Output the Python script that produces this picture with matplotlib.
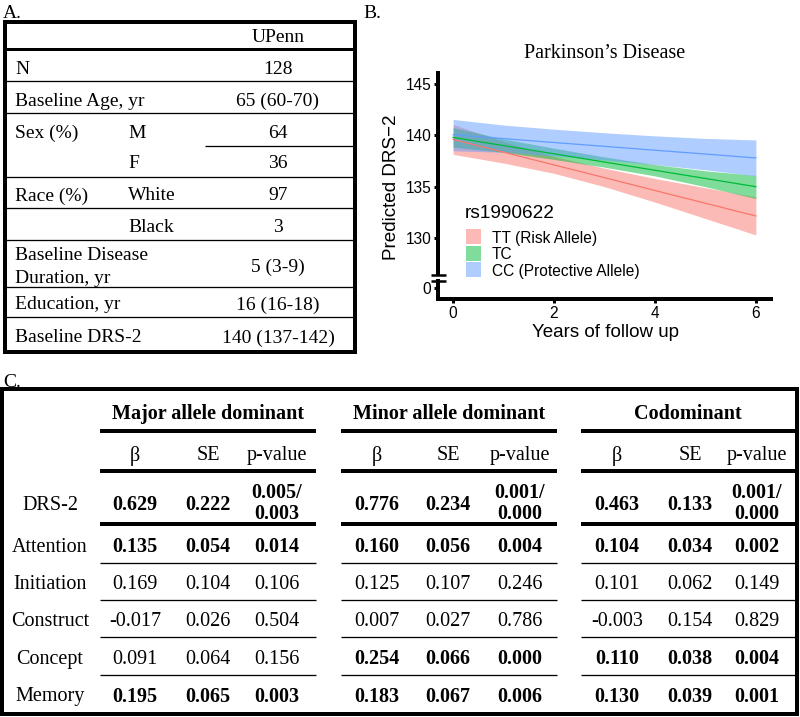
import matplotlib
matplotlib.use("Agg")
import matplotlib.pyplot as plt
from matplotlib.lines import Line2D
from matplotlib.patches import Rectangle

W, H = 800, 717
SERIF = "Liberation Serif"
SANS = "Liberation Sans"

# ---- panel A: cohort table ----
a_labels = ["N", "Baseline Age, yr", "Sex (%)", "", "Race (%)", "",
            "Baseline Disease\nDuration, yr", "Education, yr", "Baseline DRS-2"]
a_sublabels = ["", "", "M", "F", "White", "Black", "", "", ""]
a_values = ["128", "65 (60-70)", "64", "36", "97", "3", "5 (3-9)", "16 (16-18)", "140 (137-142)"]

# ---- panel B: predicted DRS-2 over follow up ----
years = [0, 1, 2, 3, 4, 5, 6]
genotypes = ["TT (Risk Allele)", "TC", "CC (Protective Allele)"]
tt_fit = [139.6, 138.36, 137.12, 135.88, 134.63, 133.39, 132.15]
tt_lo = [138.15, 137.3, 136.3, 135.0, 133.5, 131.9, 130.3]
tt_hi = [141.05, 139.4, 137.95, 136.8, 135.8, 134.9, 134.0]
tc_fit = [139.8, 139.0, 138.2, 137.4, 136.6, 135.8, 135.0]
tc_lo = [138.85, 138.35, 137.65, 136.9, 136.05, 135.0, 133.85]
tc_hi = [140.75, 139.65, 138.75, 137.9, 137.15, 136.55, 136.1]
cc_fit = [140.05, 139.68, 139.3, 138.93, 138.55, 138.18, 137.8]
cc_lo = [138.5, 138.35, 138.0, 137.6, 137.15, 136.65, 136.05]
cc_hi = [141.55, 141.0, 140.6, 140.25, 139.95, 139.7, 139.55]
colors = ["#F8766D", "#00BA38", "#619CFF"]

# ---- panel C: association table ----
c_rows = ["DRS-2", "Attention", "Initiation", "Construct", "Concept", "Memory"]
c_models = ["Major allele dominant", "Minor allele dominant", "Codominant"]
c_cols = ["\u03b2", "SE", "p-value"]
major_beta = ["0.629", "0.135", "0.169", "-0.017", "0.091", "0.195"]
major_se = ["0.222", "0.054", "0.104", "0.026", "0.064", "0.065"]
major_p = ["0.005/\n0.003", "0.014", "0.106", "0.504", "0.156", "0.003"]
minor_beta = ["0.776", "0.160", "0.125", "0.007", "0.254", "0.183"]
minor_se = ["0.234", "0.056", "0.107", "0.027", "0.066", "0.067"]
minor_p = ["0.001/\n0.000", "0.004", "0.246", "0.786", "0.000", "0.006"]
codom_beta = ["0.463", "0.104", "0.101", "-0.003", "0.110", "0.130"]
codom_se = ["0.133", "0.034", "0.062", "0.154", "0.038", "0.039"]
codom_p = ["0.001/\n0.000", "0.002", "0.149", "0.829", "0.004", "0.001"]
major_bold = [True, True, False, False, False, True]
minor_bold = [True, True, False, False, True, True]
codom_bold = [True, True, False, False, True, True]


def fx(x):
    return x / W


def fy(y):
    return 1 - y / H


def pt(px):
    return px * 72 / 100


fig = plt.figure(figsize=(W / 100, H / 100), dpi=100)


def hline(x0, x1, y, lw):
    fig.add_artist(Line2D([fx(x0), fx(x1)], [fy(y), fy(y)], transform=fig.transFigure,
                          color="black", lw=pt(lw), solid_capstyle="butt"))


def frame(x0, y0, x1, y1, lw):
    fig.add_artist(Rectangle((fx(x0), fy(y1)), fx(x1) - fx(x0), fy(y0) - fy(y1),
                             transform=fig.transFigure, fill=False, ec="black", lw=pt(lw)))


def txt(x, y, s, size=14, ha="center", weight="normal", family=SERIF, **kw):
    fig.text(fx(x), fy(y), s, ha=ha, va="center_baseline", fontsize=size,
             fontweight=weight, family=family, **kw)


# panel letters
txt(3, 11, "A.", ha="left")
txt(363, 11, "B.", ha="left")
txt(3, 380, "C.", ha="left")

# ---- table A ----
frame(4.7, 21.5, 355, 352, 4)
hline(4.7, 355, 49, 3)
for y in [81, 113, 177, 208, 240, 287, 317]:
    hline(4.7, 355, y, 1.3)
hline(205, 355, 146, 1.3)
txt(278, 36, "UPenn")
a_centers = [68, 99, 131.5, 162, 194, 225, 265, 303, 336]
for lab, sub, val, yc in zip(a_labels, a_sublabels, a_values, a_centers):
    if "\n" in lab:
        for k, part in enumerate(lab.split("\n")):
            txt(15, yc - 12 + 24 * k, part, ha="left")
    else:
        txt(15, yc, lab, ha="left")
    if sub:
        txt(128, yc, sub, ha="left")
    txt(278, yc, val)

# ---- panel B chart ----
x0, x1 = 438, 771
ax = fig.add_axes([fx(x0), fy(274), fx(x1) - fx(x0), fy(73) - fy(274)])
axb = fig.add_axes([fx(x0), fy(299), fx(x1) - fx(x0), fy(281) - fy(299)])

series = [(tt_fit, tt_lo, tt_hi), (tc_fit, tc_lo, tc_hi), (cc_fit, cc_lo, cc_hi)]
for (fit, lo, hi), c in zip(series, colors):
    ax.fill_between(years, lo, hi, color=c, alpha=0.5, lw=0)
for (fit, lo, hi), c in zip(series, colors):
    ax.plot(years, fit, color=c, lw=0.9)

ax.set_xlim(-0.3, 6.3)
ax.set_ylim(126.5, 146.07)
ax.set_yticks([130, 135, 140, 145])
ax.set_xticks([])
axb.set_xlim(-0.3, 6.3)
axb.set_ylim(-1.07, 0.68)
axb.set_yticks([0])
axb.set_xticks([0, 2, 4, 6])
for a in (ax, axb):
    for s in ("top", "right"):
        a.spines[s].set_visible(False)
    a.spines["left"].set_linewidth(pt(4))
    a.patch.set_alpha(0)
    a.tick_params(axis="both", length=pt(4), width=pt(3), pad=2, labelsize=11.2)
    for lab in a.get_xticklabels() + a.get_yticklabels():
        lab.set_family(SANS)
ax.spines["bottom"].set_visible(False)
axb.spines["bottom"].set_linewidth(pt(4))

# axis break marks
for yb in [274.5, 280.5]:
    hline(431, 446, yb, 2.5)

fig.text(fx(605), fy(53), "Parkinson\u2019s Disease", ha="center", va="center",
         fontsize=14.5, family=SERIF)
fig.text(fx(605), fy(333), "Years of follow up", ha="center", va="center",
         fontsize=13.5, family=SANS)
fig.text(fx(392), fy(187), "Predicted DRS\u22122", ha="center", va="center",
         rotation=90, fontsize=13.6, family=SANS)

# legend drawn by hand to sit where ggplot put it
txt(465, 211, "rs1990622", size=13.7, ha="left", family=SANS)
for lab, c, yc in zip(genotypes, colors, [236.5, 253, 269.5]):
    fig.add_artist(Rectangle((fx(466), fy(yc + 7.5)), fx(15), 15 / H, transform=fig.transFigure,
                             facecolor=c, alpha=0.5, edgecolor="none"))
    txt(492, yc, lab, size=11.2, ha="left", family=SANS)

# ---- table C ----
CS = 14.5
frame(2, 389, 797, 714, 4)
groups = [(100, 316, [135, 208, 277]), (341, 557, [377, 448, 520]), (581, 795, [617, 690, 757])]
row_y = [503, 545, 582, 619, 657, 694]
model_data = [(major_beta, major_se, major_p, major_bold),
              (minor_beta, minor_se, minor_p, minor_bold),
              (codom_beta, codom_se, codom_p, codom_bold)]
for name, (gx0, gx1, cx), (beta, se, pv, bold) in zip(c_models, groups, model_data):
    txt((gx0 + gx1) / 2, 412, name, size=CS, weight="bold")
    for y in [431, 471, 524]:
        hline(gx0, gx1, y, 4)
    for y in [563, 600, 637, 675]:
        hline(gx0, gx1, y, 1.3)
    for col, xc in zip(c_cols, cx):
        txt(xc, 453, col, size=CS)
    for i, yc in enumerate(row_y):
        w = "bold" if bold[i] else "normal"
        for vals, xc in zip((beta, se, pv), cx):
            parts = vals[i].split("\n")
            if len(parts) == 2:
                txt(xc, yc - 13, parts[0], size=CS, weight=w)
                txt(xc, yc + 8.5, parts[1], size=CS, weight=w)
            else:
                txt(xc, yc, vals[i], size=CS, weight=w)
for lab, yc in zip(c_rows, row_y):
    txt(50, yc, lab, size=CS)

fig.savefig("out.png", dpi=100)
